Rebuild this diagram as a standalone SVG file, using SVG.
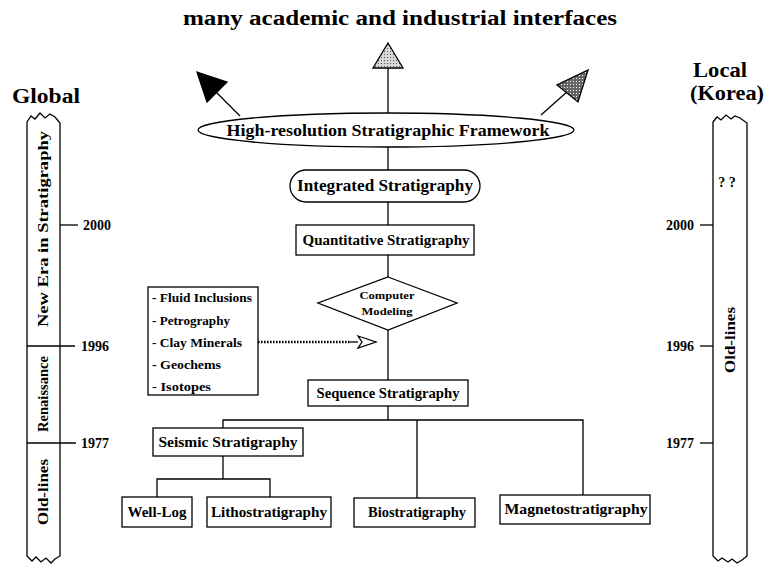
<svg xmlns="http://www.w3.org/2000/svg" width="766" height="564" viewBox="0 0 766 564">
<style>
text{font-family:"Liberation Serif","DejaVu Serif",serif;font-weight:bold;fill:#000;text-anchor:middle}
.box{fill:#fff;stroke:#000;stroke-width:1.3}
.ln{fill:none;stroke:#000;stroke-width:1.3}
.bar{fill:#fff;stroke:#000;stroke-width:1.3;stroke-linejoin:miter}
.t20{font-size:20px}
.t17{font-size:17px}
.t15{font-size:15px}
.t14{font-size:14px}
.t11{font-size:11px}
.lst{font-size:12px;text-anchor:start}
.yr{font-size:14px}
</style>
<defs>
<pattern id="lightdots" width="3" height="3" patternUnits="userSpaceOnUse">
<rect width="3" height="3" fill="#d8d8d8"/><rect width="1" height="1" fill="#555"/>
</pattern>
<pattern id="darkdots" width="3" height="3" patternUnits="userSpaceOnUse">
<rect width="3" height="3" fill="#666"/><rect width="1" height="1" fill="#fff"/>
</pattern>
</defs>

<text id="title" class="t20" x="400" y="25" textLength="434" lengthAdjust="spacingAndGlyphs">many academic and industrial interfaces</text>

<g id="connectors">
<line class="ln" x1="240" y1="116" x2="216" y2="92"/>
<line class="ln" x1="388" y1="113" x2="388" y2="68"/>
<line class="ln" x1="541" y1="115" x2="568" y2="91"/>
<line class="ln" x1="388" y1="147" x2="388" y2="170"/>
<line class="ln" x1="388" y1="202" x2="388" y2="225"/>
<line class="ln" x1="388" y1="255" x2="388" y2="277"/>
<line class="ln" x1="388" y1="330" x2="388" y2="380"/>
<polyline class="ln" points="388,406 388,420"/>
<polyline class="ln" points="223,428 223,420 583,420 583,495"/>
<line class="ln" x1="417" y1="420" x2="417" y2="498"/>
<polyline class="ln" points="223,456 223,479"/>
<polyline class="ln" points="157,497 157,479 270,479 270,497"/>
<line x1="258" y1="342" x2="350" y2="342" stroke="#000" stroke-width="2.5" stroke-dasharray="1.6,1.4"/>
<line class="ln" x1="350" y1="342" x2="358" y2="342"/>
<polygon points="358,336 376,342 358,348 362,342" fill="#fff" stroke="#000" stroke-width="1.3"/>
<polygon points="197,72 227,82 207,102" fill="#000" stroke="#000" stroke-width="1.3"/>
<polygon points="388,43 403,68 373,68" fill="url(#lightdots)" stroke="#000" stroke-width="1.3"/>
<polygon points="588,70 578,102 557,85" fill="url(#darkdots)" stroke="#000" stroke-width="1.3"/>
</g>

<g id="framework">
<ellipse class="box" cx="386" cy="130" rx="188" ry="17"/>
<text class="t17" x="388" y="136" textLength="323" lengthAdjust="spacingAndGlyphs">High-resolution Stratigraphic Framework</text>
</g>

<g id="integrated">
<rect class="box" x="290" y="170" width="190" height="32" rx="16"/>
<text class="t17" x="385" y="191" textLength="176" lengthAdjust="spacingAndGlyphs">Integrated Stratigraphy</text>
</g>

<g id="quantitative">
<rect class="box" x="296" y="225" width="178" height="30"/>
<text class="t15" x="386" y="245" textLength="167" lengthAdjust="spacingAndGlyphs">Quantitative Stratigraphy</text>
</g>

<g id="modeling">
<polygon class="box" points="388,277 457,303 388,330 318,303"/>
<text class="t11" x="387" y="299" textLength="55" lengthAdjust="spacingAndGlyphs">Computer</text>
<text class="t11" x="387" y="315" textLength="51" lengthAdjust="spacingAndGlyphs">Modeling</text>
</g>

<g id="proxies">
<rect class="box" x="148" y="287" width="110" height="108"/>
<text class="lst" x="152" y="302" textLength="100" lengthAdjust="spacingAndGlyphs">- Fluid Inclusions</text>
<text class="lst" x="152" y="325" textLength="78" lengthAdjust="spacingAndGlyphs">- Petrography</text>
<text class="lst" x="152" y="347" textLength="90" lengthAdjust="spacingAndGlyphs">- Clay Minerals</text>
<text class="lst" x="152" y="369" textLength="69" lengthAdjust="spacingAndGlyphs">- Geochems</text>
<text class="lst" x="152" y="391" textLength="59" lengthAdjust="spacingAndGlyphs">- Isotopes</text>
</g>

<g id="sequence">
<rect class="box" x="308" y="380" width="160" height="26"/>
<text class="t14" x="388" y="398" textLength="143" lengthAdjust="spacingAndGlyphs">Sequence Stratigraphy</text>
</g>

<g id="seismic">
<rect class="box" x="153" y="428" width="150" height="28"/>
<text class="t14" x="228" y="447" textLength="139" lengthAdjust="spacingAndGlyphs">Seismic Stratigraphy</text>
</g>

<g id="welllog">
<rect class="box" x="122" y="497" width="70" height="30"/>
<text class="t14" x="157" y="517" textLength="59" lengthAdjust="spacingAndGlyphs">Well-Log</text>
</g>

<g id="litho">
<rect class="box" x="207" y="497" width="124" height="30"/>
<text class="t14" x="269" y="517" textLength="116" lengthAdjust="spacingAndGlyphs">Lithostratigraphy</text>
</g>

<g id="bio">
<rect class="box" x="354" y="498" width="121" height="29"/>
<text class="t14" x="417" y="517" textLength="98" lengthAdjust="spacingAndGlyphs">Biostratigraphy</text>
</g>

<g id="magneto">
<rect class="box" x="500" y="495" width="150" height="29"/>
<text class="t14" x="576" y="514" textLength="143" lengthAdjust="spacingAndGlyphs">Magnetostratigraphy</text>
</g>

<g id="global">
<text class="t20" x="46" y="103" textLength="68" lengthAdjust="spacingAndGlyphs">Global</text>
<path class="bar" d="M27,122 L31,116 L35,119 L40,113 L45,118 L50,114 L55,117 L60,123 L60,556 L55,559 L51,563 L46,558 L41,562 L36,557 L32,561 L27,556 Z"/>
<line class="ln" x1="27" y1="346" x2="75" y2="346"/>
<line class="ln" x1="27" y1="443" x2="76" y2="443"/>
<line class="ln" x1="60" y1="225" x2="78" y2="225"/>
<text class="yr" x="97" y="230">2000</text>
<text class="yr" x="95" y="351">1996</text>
<text class="yr" x="95" y="448">1977</text>
<text class="t14" transform="translate(48,229) rotate(-90)" textLength="196" lengthAdjust="spacingAndGlyphs">New Era in Stratigraphy</text>
<text class="t14" transform="translate(48,394) rotate(-90)" textLength="76" lengthAdjust="spacingAndGlyphs">Renaissance</text>
<text class="t14" transform="translate(48,492) rotate(-90)" textLength="66" lengthAdjust="spacingAndGlyphs">Old-lines</text>
</g>

<g id="local">
<text class="t20" x="720" y="77" textLength="54" lengthAdjust="spacingAndGlyphs">Local</text>
<text class="t20" x="727" y="100" textLength="74" lengthAdjust="spacingAndGlyphs">(Korea)</text>
<path class="bar" d="M713,122 L717,117 L721,120 L726,115 L731,119 L735,116 L740,118 L747,123 L747,556 L742,560 L737,563 L732,559 L728,562 L722,558 L718,561 L713,556 Z"/>
<line class="ln" x1="700" y1="225" x2="713" y2="225"/>
<line class="ln" x1="700" y1="346" x2="713" y2="346"/>
<line class="ln" x1="700" y1="443" x2="713" y2="443"/>
<text class="yr" x="680" y="230">2000</text>
<text class="yr" x="680" y="351">1996</text>
<text class="yr" x="680" y="448">1977</text>
<text class="t14" x="727" y="187" font-size="12">? ?</text>
<text class="t14" transform="translate(735,340) rotate(-90)" textLength="66" lengthAdjust="spacingAndGlyphs">Old-lines</text>
</g>
</svg>
